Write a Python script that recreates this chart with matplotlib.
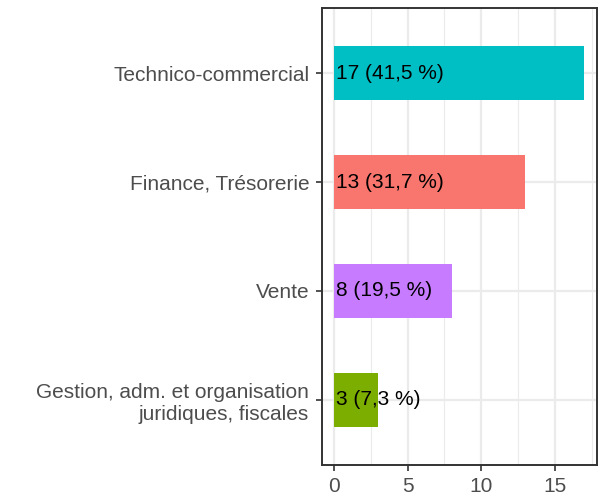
import matplotlib
matplotlib.use("Agg")
import matplotlib.pyplot as plt
from matplotlib.ticker import MultipleLocator

categories = ["Gestion, adm. et organisation\njuridiques, fiscales", "Vente",
              "Finance, Trésorerie", "Technico-commercial"]
counts = [3, 8, 13, 17]
labels = ["3 (7,3 %)", "8 (19,5 %)", "13 (31,7 %)", "17 (41,5 %)"]
colors = ["#7CAE00", "#C77CFF", "#F8766D", "#00BFC4"]

plt.rcParams['font.family'] = ['Liberation Sans', 'DejaVu Sans']

fig = plt.figure(figsize=(6.03, 4.98), dpi=100)
ax = fig.add_axes([321.7 / 603, 1 - 465 / 498, (596.7 - 321.7) / 603, (465 - 8) / 498])

pos = list(range(1, len(categories) + 1))
ax.barh(pos, counts, height=0.5, color=colors, zorder=2)
for p, c, lab in zip(pos, counts, labels):
    ax.text(0.15, p, lab, ha='left', va='center', fontsize=15, color='black', zorder=3)

ax.set_xlim(-0.85, 17.85)
ax.set_ylim(0.4, 4.6)
ax.set_yticks(pos)
ax.set_yticklabels(categories, ha='right', linespacing=1.2)
ax.xaxis.set_major_locator(MultipleLocator(5))
ax.xaxis.set_minor_locator(MultipleLocator(2.5))

ax.grid(which='major', color='#EBEBEB', linewidth=1.6, zorder=0)
ax.grid(which='minor', axis='x', color='#EBEBEB', linewidth=0.8, zorder=0)
ax.set_axisbelow(True)
for s in ax.spines.values():
    s.set_color('#333333')
    s.set_linewidth(1.4)
ax.tick_params(axis='both', which='major', length=4.5, width=1.2, color='#333333',
               labelcolor='#4D4D4D', labelsize=15, pad=4.5)
ax.tick_params(axis='x', which='minor', length=0)

fig.savefig("out.png", dpi=100)
